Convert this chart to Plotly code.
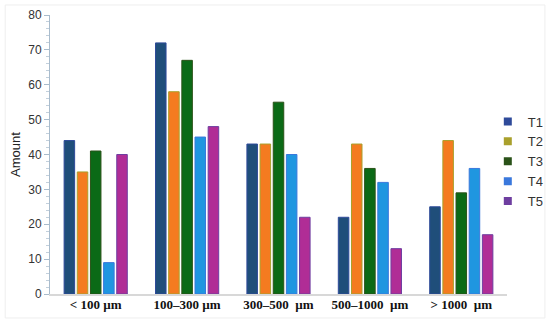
import plotly.graph_objects as go

categories = ["< 100 µm", "100–300 µm", "300–500  µm", "500–1000  µm", "> 1000  µm"]
series_names = ["T1", "T2", "T3", "T4", "T5"]
T1 = [44, 72, 43, 22, 25]
T2 = [35, 58, 43, 43, 44]
T3 = [41, 67, 55, 36, 29]
T4 = [9, 45, 40, 32, 36]
T5 = [40, 48, 22, 13, 17]
values = [T1, T2, T3, T4, T5]

fill_colors = ["#1f4e7a", "#f47b20", "#0b6a16", "#1f96e0", "#b02d96"]
edge_colors = ["#2e4a9a", "#a9a02c", "#2a5218", "#3a78dc", "#6e3ea0"]

fig = go.Figure()
for name, vals, fc, ec in zip(series_names, values, fill_colors, edge_colors):
    fig.add_trace(go.Bar(x=categories, y=vals, name=name, showlegend=False,
                         marker=dict(color=fc, line=dict(color=ec, width=1))))
for name, ec in zip(series_names, edge_colors):
    fig.add_trace(go.Scatter(x=[None], y=[None], mode="markers", name=name,
                             marker=dict(symbol="square", size=8, color=ec)))

fig.update_layout(
    width=550, height=324,
    margin=dict(l=50, r=43, t=15, b=30, autoexpand=False),
    paper_bgcolor="white", plot_bgcolor="white",
    barmode="group", bargap=0.28, bargroupgap=0.2,
    font=dict(family="Liberation Sans, Arial, sans-serif", size=12, color="#333"),
    legend=dict(x=0.958, xanchor="left", y=0.475, yanchor="middle",
                font=dict(size=13, color="#333"),
                tracegroupgap=0, bgcolor="rgba(0,0,0,0)"),
    shapes=[dict(type="rect", xref="paper", yref="paper", x0=-0.098, x1=1.083, y0=-0.086, y1=1.036,
                 line=dict(color="#eeeeee", width=1))],
)
fig.update_xaxes(
    automargin=False,
    showline=True, linecolor="#d8d8d8", linewidth=2, showgrid=False,
    ticks="", ticklabelstandoff=-3,
    tickfont=dict(family="Liberation Serif, Times New Roman, serif", size=13, color="#111", weight="bold"),
)
fig.update_yaxes(
    automargin=False,
    range=[0, 80], dtick=10, showgrid=False, zeroline=False,
    showline=True, linecolor="#a9bccd", linewidth=1,
    ticks="outside", ticklen=5, tickcolor="#a9bccd",
    minor=dict(dtick=2, ticks="outside", ticklen=3, tickcolor="#c3d0dc"),
    tickfont=dict(size=12, color="#333"),
    title=dict(text="Amount", font=dict(size=13, color="#222"), standoff=4),
)
fig.write_html("out.html", config={"displayModeBar": False},
               post_script="document.body.style.margin='0';")
